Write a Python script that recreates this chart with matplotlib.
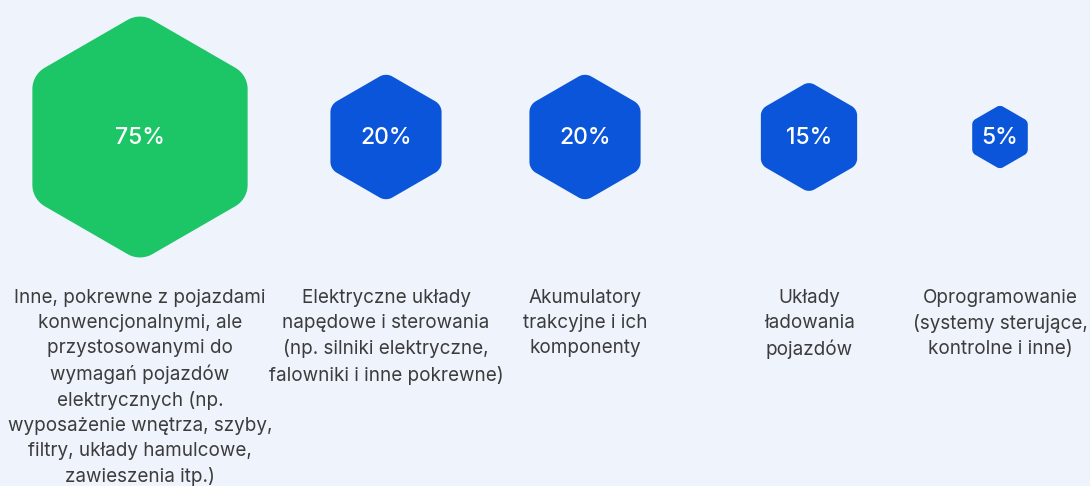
import numpy as np
import matplotlib
matplotlib.use("Agg")
import matplotlib.pyplot as plt
from matplotlib.patches import PathPatch
from matplotlib.path import Path

plt.rcParams['font.family'] = ['Inter', 'DejaVu Sans']

values = [75, 20, 20, 15, 5]
value_labels = ["75%", "20%", "20%", "15%", "5%"]
categories = [
    "Inne, pokrewne z pojazdami\nkonwencjonalnymi, ale\nprzystosowanymi do\nwymagań pojazdów\nelektrycznych (np.\nwyposażenie wnętrza, szyby,\nfiltry, układy hamulcowe,\nzawieszenia itp.)",
    "Elektryczne układy\nnapędowe i sterowania\n(np. silniki elektryczne,\nfalowniki i inne pokrewne)",
    "Akumulatory\ntrakcyjne i ich\nkomponenty",
    "Układy\nładowania\npojazdów",
    "Oprogramowanie\n(systemy sterujące,\nkontrolne i inne)",
]
highlight = [True, False, False, False, False]

# layout (pixel coordinates)
W, H = 1090, 486
col_x = [140, 386, 585, 809, 1000]
hex_cy = 137
label_y = 289
scale = 14.35  # circumradius per sqrt(value)

BG = "#EEF3FC"
GREEN = "#1CC566"
BLUE = "#0A55D9"
TEXT = "#3C3C3C"

fig = plt.figure(figsize=(W / 100, H / 100), dpi=100, facecolor=BG)
ax = fig.add_axes([0, 0, 1, 1])
ax.set_facecolor(BG)
ax.set_xlim(0, W)
ax.set_ylim(H, 0)
ax.axis("off")


def rounded_hex(cx, cy, R, rr):
    d = rr / np.sin(np.radians(60))
    pts = []
    for k in range(6):
        th = np.radians(90 + 60 * k)
        ccx = cx + (R - d) * np.cos(th)
        ccy = cy + (R - d) * np.sin(th)
        arc = np.linspace(th - np.radians(30), th + np.radians(30), 16)
        for a in arc:
            pts.append((ccx + rr * np.cos(a), ccy + rr * np.sin(a)))
    pts.append(pts[0])
    codes = [Path.MOVETO] + [Path.LINETO] * (len(pts) - 2) + [Path.CLOSEPOLY]
    return Path(pts, codes)


for x, v, vl, cat, hl in zip(col_x, values, value_labels, categories, highlight):
    R = scale * np.sqrt(v)
    path = rounded_hex(x, hex_cy, R, 0.2 * R)
    ax.add_patch(PathPatch(path, facecolor=GREEN if hl else BLUE, edgecolor="none"))
    ax.text(x, hex_cy + 1, vl, ha="center", va="center", color="white",
            fontsize=16.5, fontweight="medium")
    ax.text(x, label_y, cat, ha="center", va="top", color=TEXT,
            fontsize=13.6, linespacing=1.49, multialignment="center")

fig.savefig("out.png", dpi=100, facecolor=BG)
